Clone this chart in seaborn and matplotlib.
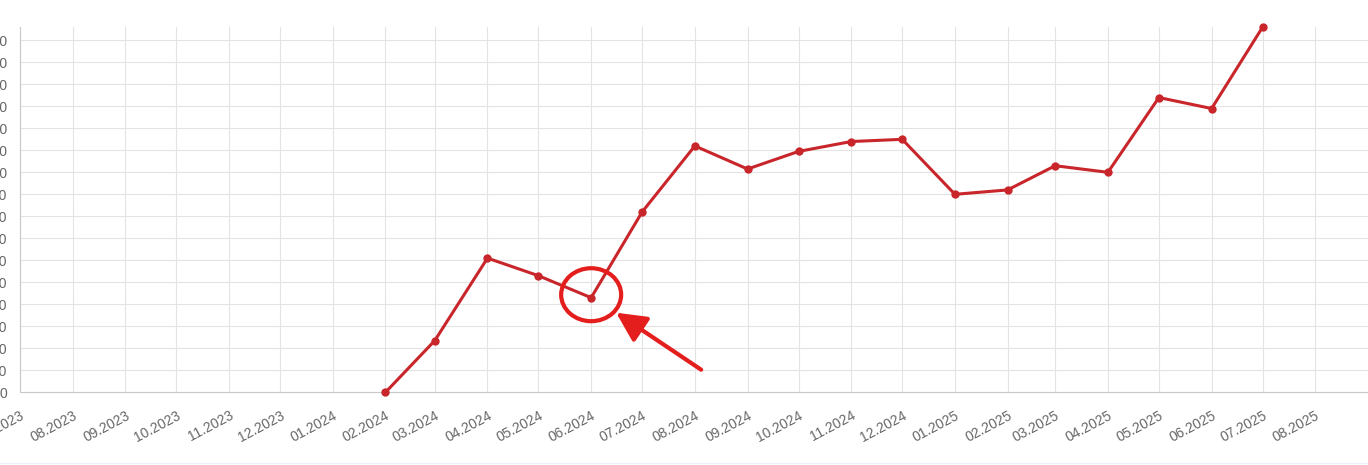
import seaborn as sns
import matplotlib.pyplot as plt
import matplotlib.dates as mdates
import matplotlib.transforms as mtransforms
from matplotlib.patches import Ellipse
from matplotlib.lines import Line2D
import pandas as pd

# monthly values
months = ['2024-02', '2024-03', '2024-04', '2024-05', '2024-06', '2024-07',
          '2024-08', '2024-09', '2024-10', '2024-11', '2024-12', '2025-01',
          '2025-02', '2025-03', '2025-04', '2025-05', '2025-06', '2025-07']
values = [0, 23.5, 61, 53, 43, 82, 112, 101.5, 109.5, 114, 115, 90,
          92, 103, 100, 134, 129, 166]
highlight_month = '2024-06'

y_ticks = list(range(0, 170, 10))
x_start, x_end = '2023-07-01', '2025-09-01'
x_tick_dates = pd.date_range('2023-07-01', '2025-08-01', freq='MS')

df = pd.DataFrame({'month': pd.to_datetime(months), 'value': values})

sns.set_style("white")
plt.rcParams['font.family'] = ['Liberation Sans', 'DejaVu Sans']

grid_col = '#e3e3e3'
axis_col = '#c8c8c8'
line_col = '#c8262b'
mark_col = '#e41d1d'

fig = plt.figure(figsize=(13.68, 4.65), dpi=100)
ax = fig.add_axes([20 / 1368, (465 - 392.3) / 465, 1 - 20 / 1368, (392.3 - 26.7) / 465])

sns.lineplot(data=df, x='month', y='value', ax=ax, color=line_col, linewidth=2.2,
             marker='o', markersize=6, markeredgewidth=0, clip_on=False, zorder=3)

ax.set_xlim(pd.Timestamp(x_start), pd.Timestamp(x_end))
ax.set_ylim(0, 166.2)
ax.set_yticks(y_ticks)
ax.set_xticks(x_tick_dates)
ax.xaxis.set_major_formatter(mdates.DateFormatter('%m.%Y'))

ax.grid(True, color=grid_col, linewidth=0.8)
ax.tick_params(axis='both', length=6.5, width=0.8, color=grid_col,
               labelsize=10, labelcolor='#666666', pad=3)
ax.tick_params(axis='x', pad=5)
for lab in ax.get_xticklabels():
    lab.set_rotation(28)
    lab.set_ha('right')
    lab.set_rotation_mode('anchor')
for side in ['top', 'right']:
    ax.spines[side].set_visible(False)
for side in ['left', 'bottom']:
    ax.spines[side].set_color(axis_col)
    ax.spines[side].set_linewidth(0.8)
ax.set_xlabel('')
ax.set_ylabel('')

# highlight around one point: ellipse + arrow
hx_num = mdates.date2num(pd.Timestamp(highlight_month + '-01'))
hy = values[months.index(highlight_month)]
px, py = ax.transData.transform((hx_num, hy))
ell = Ellipse((px, py + 3), width=60, height=53, transform=None,
              fill=False, edgecolor=mark_col, linewidth=3, zorder=5)
fig.patches.append(ell)

tip = mtransforms.offset_copy(ax.transData, fig, x=25 * 0.72, y=-15 * 0.72, units='points')
ax.annotate('', xy=(hx_num, hy), xycoords=tip,
            xytext=(85 * 0.72, -57 * 0.72), textcoords='offset points',
            arrowprops=dict(arrowstyle='-|>,head_length=0.9,head_width=0.45',
                            mutation_scale=20, color=mark_col, lw=3,
                            shrinkA=0, shrinkB=0),
            zorder=6)

# faint frame line at the bottom of the picture
fig.lines.append(Line2D([0, 1], [2 / 465, 2 / 465], transform=fig.transFigure,
                        color='#eef2f8', linewidth=1))

fig.savefig('out.png', dpi=100)
